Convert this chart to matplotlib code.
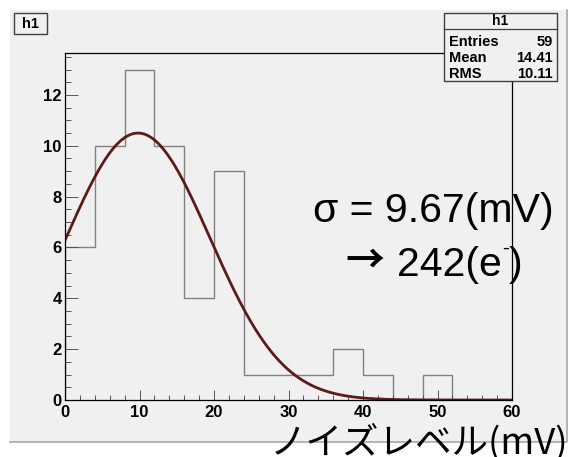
import numpy as np
import matplotlib
matplotlib.use("Agg")
import matplotlib.pyplot as plt
from matplotlib.patches import Rectangle
from matplotlib.lines import Line2D

# histogram h1: noise level, 4 mV bins from 0 to 60
bin_edges = np.linspace(0, 60, 16)
counts = [6, 10, 13, 10, 4, 9, 1, 1, 1, 2, 1, 0, 1, 0, 0]

# stat box values
stat_names = ["Entries", "Mean", "RMS"]
stat_values = ["59", "14.41", "10.11"]

# gaussian fit
fit_const = 10.5
fit_mean = 9.8
fit_sigma = 9.67
noise_electrons = 242

W, H = 570, 457
plt.rcParams["font.family"] = ["Liberation Sans", "DejaVu Sans"]


def fx(px):
    return px / W


def fy(py):
    return 1 - py / H


fig = plt.figure(figsize=(W / 100, H / 100), dpi=100)
fig.patch.set_facecolor("white")

# canvas background with a darker lower/right edge
fig.patches.append(Rectangle((fx(10), fy(442)), 557 / W, (442 - 10) / H,
                             transform=fig.transFigure, facecolor="#f0f0f0",
                             edgecolor="none", zorder=-5))
fig.lines.append(Line2D([fx(10), fx(567), fx(567)], [fy(442), fy(442), fy(10)],
                        transform=fig.transFigure, color="#a8a8a8", lw=1.2,
                        zorder=-4))

ax = fig.add_axes([fx(65), fy(400), (512 - 65) / W, (400 - 53) / H])
ax.set_facecolor("#f0f0f0")

ax.stairs(counts, bin_edges, color="#808080", lw=1.0)

xs = np.linspace(bin_edges[0], bin_edges[-1], 500)
ys = fit_const * np.exp(-0.5 * ((xs - fit_mean) / fit_sigma) ** 2)
ax.plot(xs, ys, color="#5e1a1a", lw=2.0)

ax.set_xlim(0, 60)
ax.set_ylim(0, max(counts) * 1.05)
ax.set_xticks(np.arange(0, 61, 10))
ax.set_xticks(np.arange(0, 61, 2), minor=True)
ax.set_yticks(np.arange(0, 13, 2))
ax.set_yticks(np.arange(0, 13.6, 0.5), minor=True)

for sp in ax.spines.values():
    sp.set_color("black")
    sp.set_linewidth(0.9)

ax.tick_params(axis="y", which="major", direction="in", length=9.5, width=0.7,
               color="#555555", pad=2.5, labelsize=12)
ax.tick_params(axis="y", which="minor", direction="in", length=4.5, width=0.7,
               color="#555555")
ax.tick_params(axis="x", which="major", direction="in", length=7, width=0.7,
               color="#555555", pad=3.5, labelsize=12)
ax.tick_params(axis="x", which="minor", direction="in", length=3.6, width=0.7,
               color="#555555")
for lab in ax.get_xticklabels() + ax.get_yticklabels():
    lab.set_fontweight("bold")

# title box
fig.patches.append(Rectangle((fx(14), fy(34)), 33 / W, 21 / H,
                             transform=fig.transFigure, facecolor="#f0f0f0",
                             edgecolor="#404040", lw=1.0, zorder=3))
fig.text(fx(30.5), fy(23.5), "h1", ha="center", va="center",
         fontsize=10.5, fontweight="bold", zorder=4)

# stat box
bx0, bx1, by0, by1 = 444, 557, 13, 81
fig.patches.append(Rectangle((fx(bx0), fy(by1)), (bx1 - bx0) / W, (by1 - by0) / H,
                             transform=fig.transFigure, facecolor="#f0f0f0",
                             edgecolor="#404040", lw=1.0, zorder=3))
fig.lines.append(Line2D([fx(bx0), fx(bx1)], [fy(29), fy(29)],
                        transform=fig.transFigure, color="#404040", lw=0.9, zorder=4))
fig.text(fx((bx0 + bx1) / 2), fy(21), "h1", ha="center", va="center",
         fontsize=10, fontweight="bold", zorder=4)
for i, (name, val) in enumerate(zip(stat_names, stat_values)):
    yy = fy(42 + i * 16)
    fig.text(fx(bx0 + 5), yy, name, ha="left", va="center",
             fontsize=10.5, fontweight="bold", zorder=4)
    fig.text(fx(bx1 - 4), yy, val, ha="right", va="center",
             fontsize=10.5, fontweight="bold", zorder=4)

# fit annotation
fig.text(fx(313), fy(222), f"σ = {fit_sigma:.2f}(mV)", ha="left", va="baseline",
         fontsize=29.5)

renderer = fig.canvas.get_renderer()
fig.text(fx(345), fy(261), "→", ha="left", va="center", fontsize=28,
         fontweight="bold", family=["Noto Sans CJK JP", "DejaVu Sans"])
part = fig.text(fx(397), fy(276), f"{noise_electrons}(e", ha="left",
                va="baseline", fontsize=29.5)
x_next = part.get_window_extent(renderer).x1
minus = fig.text(x_next / W, fy(254), "-", ha="left", va="baseline", fontsize=15)
x_next = minus.get_window_extent(renderer).x1
fig.text(x_next / W, fy(276), ")", ha="left", va="baseline", fontsize=29.5)

# x axis title
fig.text(fx(270), fy(454), "ノイズレベル(mV)", ha="left", va="baseline",
         fontsize=26.3, family=["Noto Sans CJK JP", "DejaVu Sans"])

fig.savefig("out.png", dpi=100)
